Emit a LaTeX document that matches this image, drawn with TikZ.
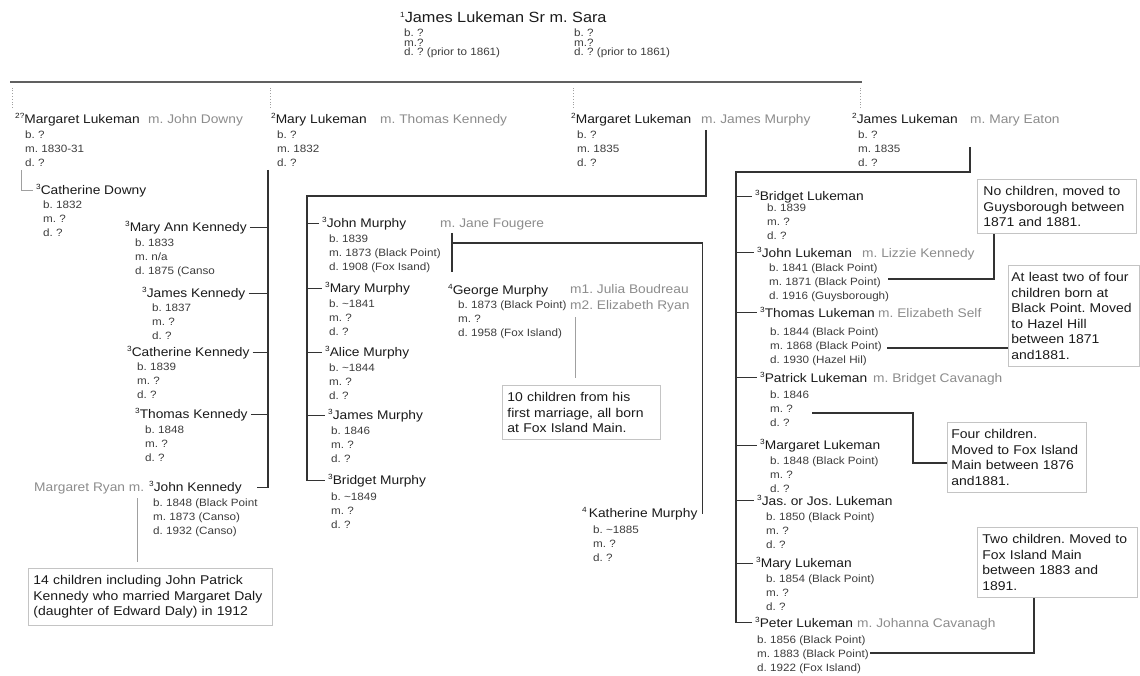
\documentclass[tikz,border=0pt]{standalone}
\usepackage{fontspec}
\setmainfont{Liberation Sans}[FakeStretch=1.1]
\usepackage{tikz}
\frenchspacing
\definecolor{namecol}{HTML}{1A1A1A}
\definecolor{infocol}{HTML}{3C3C3C}
\definecolor{spousecol}{HTML}{8C8C8C}
\definecolor{linecol}{HTML}{333333}
\definecolor{buscol}{HTML}{606060}
\definecolor{lightcol}{HTML}{A0A0A0}
\definecolor{boxcol}{HTML}{C4C4C4}
\newcommand\titlefont{\fontsize{14.8}{16}\selectfont}
\newcommand\namefont{\fontsize{12.5}{14}\selectfont}
\newcommand\infofont{\fontsize{10.6}{14}\selectfont}
\newcommand\topinfofont{\fontsize{10.6}{9.5}\selectfont}
\newcommand\notefont{\fontsize{12.7}{15.5}\selectfont}
\newcommand\gen[1]{\raisebox{5pt}{\fontsize{7.5}{8}\selectfont #1}}
\tikzstyle{person} = [anchor=base west, inner sep=0pt, font=\namefont, text=namecol]
\tikzstyle{spouse} = [anchor=base west, inner sep=0pt, font=\namefont, text=spousecol]
\tikzstyle{info} = [anchor=north west, inner sep=0pt, align=left, font=\infofont, text=infocol]
\tikzstyle{note} = [anchor=north west, draw=boxcol, line width=0.8pt, inner xsep=5pt,
   inner ysep=7pt, align=left, font=\notefont, text=namecol]
\tikzstyle{famline} = [draw=linecol, line width=1.4pt]
\tikzstyle{busline} = [draw=buscol, line width=2pt]
\tikzstyle{lightline} = [draw=lightcol, line width=0.8pt]
\tikzstyle{dotline} = [draw=lightcol, line width=0.8pt, dotted]
\begin{document}
\begin{tikzpicture}[x=1pt, y=-1pt]
    \useasboundingbox (0,0) rectangle (1140,676);
    \node[person, font=\titlefont] (jls) at (400,23) {\gen{1}James Lukeman Sr m. Sara};
    \node[info, font=\topinfofont] (jlsi) at (404,29) {b. ?\\m.?\\d. ? (prior to 1861)};
    \node[info, font=\topinfofont] (sari) at (574,29) {b. ?\\m.?\\d. ? (prior to 1861)};
    \coordinate (busL) at (10,82);
    \coordinate (busR) at (862,82);
    \draw[busline] (busL) -- (busR);
    % second generation
    \node[person] (ml) at (15,123.5) {\gen{2?}Margaret Lukeman};
    \node[spouse] (mlsp) at (148,123.5) {m. John Downy};
    \node[info] (mli) at (25,131) {b. ?\\m. 1830-31\\d. ?};
    \node[person] (mry) at (271,123.5) {\gen{2}Mary Lukeman};
    \node[spouse] (mrysp) at (380,123.5) {m. Thomas Kennedy};
    \node[info] (mryi) at (277,131) {b. ?\\m. 1832\\d. ?};
    \node[person] (mgt) at (571,123.5) {\gen{2}Margaret Lukeman};
    \node[spouse] (mgtsp) at (701,123.5) {m. James Murphy};
    \node[info] (mgti) at (577,131) {b. ?\\m. 1835\\d. ?};
    \node[person] (jl) at (852,123.5) {\gen{2}James Lukeman};
    \node[spouse] (jlsp) at (970,123.5) {m. Mary Eaton};
    \node[info] (jli) at (858,131) {b. ?\\m. 1835\\d. ?};
    \foreach \n/\dx in {ml/-3, mry/-1, mgt/2, jl/8}
        \draw[dotline] ([xshift=\dx]\n.north west) ++(0,-5) -- ++(0,-22);
    % Downy
    \node[person] (cd) at (36,194.5) {\gen{3}Catherine Downy};
    \node[info] (cdi) at (43,201) {b. 1832\\m. ?\\d. ?};
    \coordinate (dn) at (21,170);
    \draw[lightline] (dn) |- ([xshift=-3]cd.west);
    % Kennedy
    \node[person] (mak) at (125,231.5) {\gen{3}Mary Ann Kennedy};
    \node[info] (maki) at (135,239) {b. 1833\\m. n/a\\d. 1875 (Canso};
    \node[person] (jk) at (142,297.5) {\gen{3}James Kennedy};
    \node[info] (jki) at (152,304) {b. 1837\\m. ?\\d. ?};
    \node[person] (ck) at (127,356.5) {\gen{3}Catherine Kennedy};
    \node[info] (cki) at (137,363) {b. 1839\\m. ?\\d. ?};
    \node[person] (tk) at (135,418.5) {\gen{3}Thomas Kennedy};
    \node[info] (tki) at (145,426) {b. 1848\\m. ?\\d. ?};
    \node[spouse] (jnksp) at (34,491.5) {Margaret Ryan m.};
    \node[person] (jnk) at (149,491.5) {\gen{3}John Kennedy};
    \node[info] (jnki) at (153,499) {b. 1848 (Black Point\\m. 1873 (Canso)\\d. 1932 (Canso)};
    \coordinate (kt) at (268,170);
    \draw[famline] (kt) |- ([xshift=15]jnk.east);
    \foreach \n in {mak,jk,ck,tk}
        \draw[famline, shorten <=3pt] (\n.east) -- (\n.east -| kt);
    \node[note, text width=234pt] (kn) at (28,568) {14 children including John Patrick\\Kennedy who married Margaret Daly\\(daughter of Edward Daly) in 1912};
    \coordinate (kc) at (137,498);
    \draw[lightline, shorten >=6pt] (kc) -- (kc |- kn.north);
    % Murphy
    \node[person] (jm) at (322,227.5) {\gen{3}John Murphy};
    \node[spouse] (jmsp) at (440,227.5) {m. Jane Fougere};
    \node[info] (jmi) at (329,235) {b. 1839\\m. 1873 (Black Point)\\d. 1908 (Fox Isand)};
    \node[person] (mym) at (325,292.5) {\gen{3}Mary Murphy};
    \node[info] (mymi) at (329,300) {b. \textasciitilde1841\\m. ?\\d. ?};
    \node[person] (am) at (325,356.5) {\gen{3}Alice Murphy};
    \node[info] (ami) at (329,364) {b. \textasciitilde1844\\m. ?\\d. ?};
    \node[person] (jsm) at (328,419.5) {\gen{3}James Murphy};
    \node[info] (jsmi) at (331,427) {b. 1846\\m. ?\\d. ?};
    \node[person] (bm) at (328,484.5) {\gen{3}Bridget Murphy};
    \node[info] (bmi) at (331,493) {b. \textasciitilde1849\\m. ?\\d. ?};
    \coordinate (mc) at (706,130);
    \coordinate (mb) at (307,196);
    \draw[famline] (mc) |- (mb) |- ([xshift=-3]bm.west);
    \foreach \n in {jm,mym,am,jsm}
        \draw[famline, shorten >=3pt] (mb |- \n.west) -- (\n.west);
    \node[person] (gm) at (448,294.5) {\gen{4}George Murphy};
    \node[spouse] (gmsp1) at (570,293.5) {m1. Julia Boudreau};
    \node[spouse] (gmsp2) at (570,309.5) {m2. Elizabeth Ryan};
    \node[info] (gmi) at (458,301) {b. 1873 (Black Point)\\m. ?\\d. 1958 (Fox Island)};
    \node[note, text width=148pt] (gn) at (502,385) {10 children from his\\first marriage, all born\\at Fox Island Main.};
    \coordinate (gc) at (575,317);
    \draw[lightline, shorten >=7pt] (gc) -- (gc |- gn.north);
    \node[person] (km) at (582,517.5) {\gen{4}\,Katherine Murphy};
    \node[info] (kmi) at (593,526) {b. \textasciitilde1885\\m. ?\\d. ?};
    \coordinate (jmc) at (452,233);
    \coordinate (jmk) at (452,243);
    \draw[famline] (jmc) -- ++(0,39);
    \draw[famline] (jmk) -| ([xshift=5]km.east);
    % Lukeman
    \node[person] (bl) at (755,200.5) {\gen{3}Bridget Lukeman};
    \node[info] (bli) at (767,204) {b. 1839\\m. ?\\d. ?};
    \node[person] (jnl) at (757,257.5) {\gen{3}John Lukeman};
    \node[spouse] (jnlsp) at (862,257.5) {m. Lizzie Kennedy};
    \node[info] (jnli) at (769,264) {b. 1841 (Black Point)\\m. 1871 (Black Point)\\d. 1916 (Guysborough)};
    \node[person] (tl) at (760,317.5) {\gen{3}Thomas Lukeman};
    \node[spouse] (tlsp) at (878,317.5) {m. Elizabeth Self};
    \node[info] (tli) at (770,328) {b. 1844 (Black Point)\\m. 1868 (Black Point)\\d. 1930 (Hazel Hil)};
    \node[person] (pl) at (760,382.5) {\gen{3}Patrick Lukeman};
    \node[spouse] (plsp) at (873,382.5) {m. Bridget Cavanagh};
    \node[info] (pli) at (770,391) {b. 1846\\m. ?\\d. ?};
    \node[person] (mgl) at (760,449.5) {\gen{3}Margaret Lukeman};
    \node[info] (mgli) at (770,457) {b. 1848 (Black Point)\\m. ?\\d. ?};
    \node[person] (jjl) at (757,505.5) {\gen{3}Jas. or Jos. Lukeman};
    \node[info] (jjli) at (766,513) {b. 1850 (Black Point)\\m. ?\\d. ?};
    \node[person] (mryl) at (756,567.5) {\gen{3}Mary Lukeman};
    \node[info] (mryli) at (766,575) {b. 1854 (Black Point)\\m. ?\\d. ?};
    \node[person] (ptl) at (755,627.5) {\gen{3}Peter Lukeman};
    \node[spouse] (ptlsp) at (857,627.5) {m. Johanna Cavanagh};
    \node[info] (ptli) at (757,636) {b. 1856 (Black Point)\\m. 1883 (Black Point)\\d. 1922 (Fox Island)};
    \coordinate (jc) at (970,147);
    \coordinate (lb) at (736,172);
    \draw[famline] (jc) |- (lb) |- ([xshift=-3]ptl.west);
    \foreach \n in {bl,jnl,tl,pl,mgl,jjl,mryl}
        \draw[famline, shorten >=3pt] (lb |- \n.west) -- (\n.west);
    % notes
    \node[note, text width=147pt, inner xsep=6pt] (nb1) at (977,179) {No children, moved to\\Guysborough between\\1871 and 1881.};
    \node[note, text width=125pt, inner xsep=3pt] (nb2) at (1008,265) {At least two of four\\children born at\\Black Point. Moved\\to Hazel Hill\\between 1871\\and1881.};
    \node[note, text width=131pt, inner xsep=4pt] (nb3) at (947,422) {Four children.\\Moved to Fox Island\\Main between 1876\\and1881.};
    \node[note, text width=150pt] (nb4) at (977,527) {Two children. Moved to\\Fox Island Main\\between 1883 and\\1891.};
    \coordinate (n1) at (888,279);
    \draw[famline] (n1) -| ([xshift=17]nb1.south west);
    \coordinate (n2) at (887,348);
    \draw[famline] (n2) -- (n2 -| nb2.west);
    \coordinate (n3) at (812,413);
    \coordinate (n3b) at (913,463);
    \draw[famline] (n3) -| (n3b) -- (n3b -| nb3.west);
    \coordinate (n4) at (870,653);
    \draw[famline] (n4) -| ([xshift=57]nb4.south west);
\end{tikzpicture}
\end{document}
